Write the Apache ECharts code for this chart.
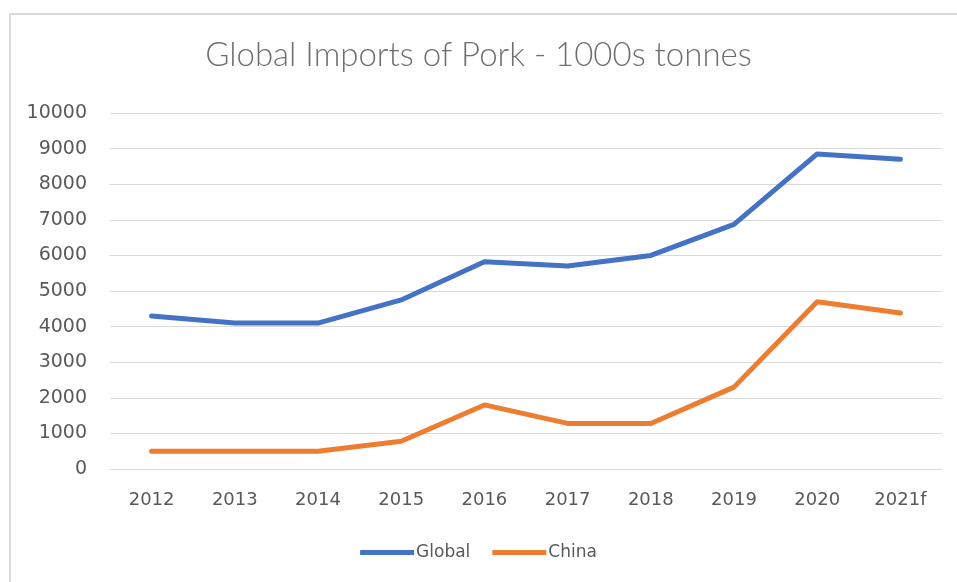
<!DOCTYPE html>
<html>
<head>
<meta charset="utf-8">
<script src="https://cdn.jsdelivr.net/npm/echarts@6/dist/echarts.min.js"></script>
<style>
html,body{margin:0;padding:0;background:#fff;}
#chart{width:957px;height:582px;}
</style>
</head>
<body>
<div id="chart"></div>
<script>
const categories = ['2012','2013','2014','2015','2016','2017','2018','2019','2020','2021f'];
const globalImports = [4300, 4100, 4100, 4750, 5820, 5700, 6000, 6870, 8850, 8700];
const chinaImports = [500, 500, 500, 780, 1800, 1280, 1280, 2300, 4700, 4380];
const yTicks = { min: 0, max: 10000, interval: 1000 };
const titleText = 'Global Imports of Pork - 1000s tonnes';

const chart = echarts.init(document.getElementById('chart'), null, {renderer: 'canvas'});
const labelColor = '#595959';
chart.setOption({
  animation: false,
  backgroundColor: '#ffffff',
  title: {
    text: titleText,
    left: 'center',
    top: 34,
    textStyle: { fontFamily: 'Lato', fontWeight: 300, fontSize: 33, color: '#6f6f6f' }
  },
  graphic: [
    { type: 'line', shape: { x1: 9, y1: 14, x2: 957, y2: 14 }, style: { stroke: '#d9d9d9', lineWidth: 2 } },
    { type: 'line', shape: { x1: 10, y1: 14, x2: 10, y2: 582 }, style: { stroke: '#d9d9d9', lineWidth: 2 } }
  ],
  legend: {
    bottom: 16,
    left: 'center',
    itemWidth: 54,
    itemHeight: 5,
    itemGap: 22,
    icon: 'rect',
    textStyle: { fontFamily: 'DejaVu Sans', fontSize: 17, color: labelColor, padding: [0, 0, 0, -3] },
    data: ['Global', 'China']
  },
  grid: { left: 110, right: 15, top: 113, bottom: 113, containLabel: false },
  xAxis: {
    type: 'category',
    data: categories,
    boundaryGap: true,
    axisLine: { show: true, lineStyle: { color: '#d9d9d9', width: 1 } },
    axisTick: { show: false },
    axisLabel: { color: labelColor, fontFamily: 'DejaVu Sans', fontSize: 18, margin: 22 }
  },
  yAxis: {
    type: 'value',
    min: yTicks.min, max: yTicks.max, interval: yTicks.interval,
    axisLine: { show: false },
    axisTick: { show: false },
    splitLine: { lineStyle: { color: '#d9d9d9', width: 1 } },
    axisLabel: { color: labelColor, fontFamily: 'DejaVu Sans', fontSize: 19, margin: 23,
      formatter: function (v) { return String(v); } }
  },
  series: [
    {
      name: 'Global', type: 'line', data: globalImports,
      symbol: 'none', smooth: false,
      lineStyle: { color: '#4472C4', width: 5, cap: 'round', join: 'round' },
      itemStyle: { color: '#4472C4' }
    },
    {
      name: 'China', type: 'line', data: chinaImports,
      symbol: 'none', smooth: false,
      lineStyle: { color: '#ED7D31', width: 5, cap: 'round', join: 'round' },
      itemStyle: { color: '#ED7D31' }
    }
  ]
});
</script>
</body>
</html>
